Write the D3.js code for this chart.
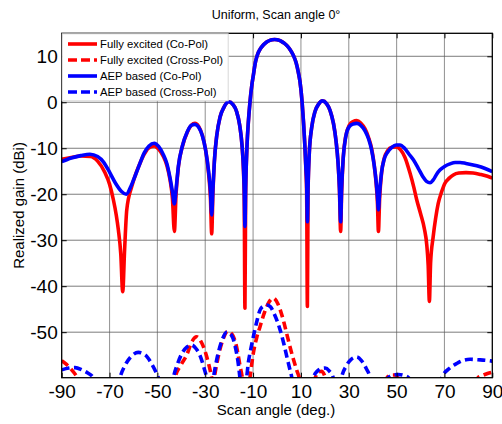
<!DOCTYPE html>
<html>
<head>
<meta charset="utf-8">
<script src="https://cdn.jsdelivr.net/npm/d3@7"></script>
<style>
  body { margin: 0; background: #fff; }
  svg { display: block; }
  text { font-family: "Liberation Sans", Arial, sans-serif; fill: #000; }
</style>
</head>
<body>
<svg id="chart" width="502" height="424"></svg>
<script>
// Axis ticks
const xTicks = [-90, -70, -50, -30, -10, 10, 30, 50, 70, 90];
const yTicks = [-50, -40, -30, -20, -10, 0, 10];

// Fully excited array, co-polar realized gain (dBi) vs scan angle (deg)
const fullCoAngles = [-90,-86,-82,-78,-75,-72,-70,-68.4,-67.2,-66.3,-65.3,-64.5,-63.7,-62.8,-60.7,-59,-57.3,-55.5,-53.8,-51.3,-49.5,-47.5,-46,-44.7,-43.7,-42.9,-42.2,-41.2,-39.5,-37.5,-35.8,-34.3,-32.8,-31.2,-29.8,-28.6,-27.8,-27.3,-26.8,-26.2,-25.2,-23.8,-22.2,-20.2,-18.4,-16.9,-15.6,-14.6,-14.0,-13.7,-13.4,
  -13.1,-12.5,-12,-11.3,-10.5,-10,-9,-8,-7,-6,-5,-4,-3,-2,-1,0,1,2,3,4,5,6,7,8,9,9.6,10.5,11.1,11.6,12.1,12.4,12.7,
  13.0,13.5,14.5,15.9,17.4,19.0,20.7,22.2,23.6,24.7,25.5,26.1,26.6,27.0,27.7,28.7,30.2,31.8,33.3,35.0,36.8,38.3,39.6,40.6,41.5,42.0,42.4,42.9,43.7,44.8,46.3,48.0,49.8,51.6,53.5,55.6,57.2,58.4,60,61.6,62.6,63.2,63.7,64.2,65.3,66.3,67.4,68.8,70.2,72,73.7,76,79,82,85,88,90];
const fullCoGain = [-12.4,-12.0,-11.7,-11.8,-12.8,-15.2,-17.8,-21.2,-24.5,-27.8,-33,-41.2,-32,-23.4,-18.3,-15.5,-13.3,-11.3,-10,-9.5,-10.2,-11.8,-13.8,-16.9,-21,-28.1,-20,-14,-9.5,-6.5,-5,-4.6,-5.2,-7.2,-10.5,-15.5,-21,-28.6,-20,-13,-7.3,-3.2,-1.1,0.1,-0.5,-2.0,-5,-9.5,-15,-21,-44.8,
  -20,-9,-4.5,0,3.8,5.5,8.8,10.6,11.6,12.3,12.8,13.2,13.45,13.6,13.65,13.6,13.45,13.2,12.85,12.4,11.8,11.0,10.0,8.6,6.3,4.5,0,-4.5,-9,-15,-20,-44.4,
  -19,-11,-5.5,-2.0,-0.4,0.3,-0.3,-1.8,-4.6,-8.5,-13,-19,-28.1,-20,-12,-7.5,-5,-4.2,-4.0,-4.5,-5.8,-7.7,-10.2,-13.5,-18,-22,-28.1,-21,-15.5,-12.2,-10.5,-9.8,-9.7,-10.3,-12,-15.4,-18.5,-21.2,-24.2,-27.5,-31,-35.5,-43.3,-35,-29.2,-25.3,-22,-19.5,-17.6,-16.5,-15.8,-15.4,-15.3,-15.4,-15.7,-16.1,-16.5];

// AEP based model, co-polar realized gain (dBi)
const aepCoAngles = [-90,-86,-82,-78.2,-75,-72.5,-70,-67.5,-65,-63,-61,-59,-57.3,-55.5,-53.5,-51.3,-49.5,-47.5,-46,-44.7,-43.7,-42.9,-42.2,-41.2,-39.5,-37.5,-35.8,-34.3,-32.8,-31.2,-29.8,-28.6,-27.8,-27.3,-26.8,-26.2,-25.2,-23.8,-22.2,-20.2,-18.4,-16.9,-15.6,-14.6,-14.0,-13.7,-13.4,
  -13.1,-12.5,-12,-11.3,-10.5,-10,-9,-8,-7,-6,-5,-4,-3,-2,-1,0,1,2,3,4,5,6,7,8,9,9.6,10.5,11.1,11.6,12.1,12.4,12.7,
  13.0,13.5,14.5,15.9,17.4,19.0,20.7,22.2,23.6,24.7,25.5,26.1,26.6,27.0,27.7,28.7,30.2,31.8,33.3,35.0,36.8,38.3,39.6,40.6,41.5,42.0,42.4,42.9,43.7,44.8,46.3,48.0,49.8,51.4,53.3,55.2,57,59,61,62.5,64,65.3,66.8,68.2,70.2,72.3,74.5,76.5,79,83.5,87,90];
const aepCoGain = [-12.9,-12.1,-11.6,-11.3,-11.8,-13,-15.2,-17.6,-19.4,-20.0,-18.2,-15.6,-13.3,-11,-9.5,-8.9,-9.6,-11.4,-13.4,-16.5,-19.5,-22.1,-19,-13.8,-9.4,-6.4,-5.0,-4.8,-5.4,-7.3,-10.5,-15,-19.5,-24.5,-19,-13,-7.3,-3.2,-1.1,0.1,-0.5,-2.0,-5,-9.5,-14.5,-19,-27,
  -18.5,-9,-4.5,0,3.8,5.5,8.8,10.6,11.6,12.3,12.8,13.2,13.45,13.6,13.65,13.6,13.45,13.2,12.85,12.4,11.8,11.0,10.0,8.6,6.3,4.5,0,-4.5,-9,-14.5,-17.5,-26,
  -18,-11,-5.5,-2.0,-0.4,0.3,-0.3,-1.8,-4.6,-8.5,-13,-18.5,-26,-19,-12,-7.6,-5.3,-4.7,-4.6,-5.0,-6.2,-8,-10.5,-13.6,-17.5,-20.5,-23.4,-19.5,-15.2,-12.4,-10.8,-9.8,-9.3,-9.3,-10,-11.3,-12.5,-14.3,-16.2,-17.2,-17.5,-16.9,-15.6,-14.7,-13.9,-13.4,-13.1,-13.1,-13.3,-13.8,-14.4,-15.1];

// Fully excited array, cross-polar gain (null = lobe below the plotted range)
const fullXAngles = [-90,-88,-86,-84,-82.5,-81.5,null,-43.3,-42.6,-40.2,-37.7,-35.7,-33.6,-31.5,-29.4,-28.3,-27.3,-26.8,null,-26.8,-26.2,-24.5,-22.6,-20.6,-18.6,-16.8,-15.4,-14.5,-14.0,null,-12,-11.3,-9.9,-8.5,-7.1,-5.3,-3.6,-1.5,0.5,2.6,4.0,5.4,6.8,8.2,9.4,10,null,15.3,16.2,17.4,18.6,19.8,20.8,null,45,46,47.5,49,50.5,51.5,null,82.5,84,86,88,90];
const fullXGain = [-56.2,-57,-58.1,-59.4,-60.6,-62,null,-62,-59.9,-57.2,-54.9,-52.2,-51.0,-52.3,-55.3,-57.5,-59.9,-61.5,null,-62,-59.9,-55.2,-51.6,-49.8,-50.6,-53.4,-57.5,-59.9,-62,null,-63,-59.9,-54.6,-51.2,-48.8,-45.8,-43.7,-42.6,-44.0,-47.3,-50.2,-53.1,-55.8,-58.2,-60.2,-62,null,-61,-59.6,-58.6,-58.5,-59.3,-61,null,-61,-59.9,-59.3,-59.3,-59.9,-61,null,-61,-59.9,-59.4,-59.0,-58.7];

// AEP based model, cross-polar gain
const aepXAngles = [-90,-87,-84.4,-81.5,-79,-76.8,-76,null,-66.5,-65.6,-63.5,-61,-58,-55,-52.5,-50.5,-49.6,-49,null,-44,-43.3,-41.5,-39.5,-37.6,-35.7,-33.8,-32,-30.5,-29.4,-28.8,null,-27.3,-26.6,-25,-23,-21,-19,-17.3,-16.2,-15.5,-15,null,-13.5,-12.7,-12,-11,-9.9,-8.5,-7.1,-5.6,-4.3,-2.9,-1,1.3,2.8,4.1,5.2,6.2,6.8,null,14.5,15.2,16.8,18.5,20.1,21.8,23.5,24,null,26.3,27,29,31,33.3,35.3,37.3,38.9,39.5,null,45.8,46.5,48.5,50.7,53,55,55.8,null,68.2,68.9,72,75.5,78,80.7,84,87,90];
const aepXGain = [-58.2,-57.8,-57.7,-58.2,-58.9,-59.9,-61,null,-62,-59.9,-57.2,-55.3,-54.4,-55.0,-56.8,-58.8,-59.9,-61,null,-62,-59.9,-56.8,-54.4,-53.2,-52.8,-53.6,-55.3,-57.8,-59.9,-61.5,null,-62,-59.9,-55.5,-51.8,-50.0,-50.7,-53.5,-56.8,-59.9,-62,null,-62,-59.9,-56.7,-53.8,-51,-47.8,-45.2,-44.3,-44.1,-44.4,-46.2,-49.5,-52.4,-55.3,-57.7,-59.9,-62,null,-62,-59.9,-58.5,-57.9,-57.8,-58.4,-59.9,-61,null,-62,-59.9,-57.3,-55.9,-55.4,-56.2,-57.9,-59.9,-61.5,null,-61,-59.9,-59.3,-59.2,-59.4,-59.9,-61,null,-61.5,-59.9,-57.9,-56.7,-56.1,-55.9,-56.0,-56.1,-56.3];

const seriesNames = ["Fully excited (Co-Pol)", "Fully excited (Cross-Pol)", "AEP based (Co-Pol)", "AEP based (Cross-Pol)"];
const seriesColors = ["#ff0000", "#ff0000", "#0000ff", "#0000ff"];
const seriesDashed = [false, true, false, true];

const series = [
  { angles: fullCoAngles, gain: fullCoGain },
  { angles: fullXAngles, gain: fullXGain },
  { angles: aepCoAngles, gain: aepCoGain },
  { angles: aepXAngles, gain: aepXGain }
].map((s, i) => ({
  name: seriesNames[i], color: seriesColors[i], dashed: seriesDashed[i],
  points: s.angles.map((a, k) => (a === null || s.gain[k] === null) ? null : { a, g: s.gain[k] })
}));

const svg = d3.select("#chart");
const X0 = 61.7, X1 = 492.3, Y0 = 33.3, Y1 = 377.7;
const x = d3.scaleLinear().domain([-90, 90]).range([X0, X1]);
const y = d3.scaleLinear().domain([-59.9, 15]).range([Y1, Y0]);

svg.append("defs").append("clipPath").attr("id", "plot-clip")
  .append("rect").attr("x", X0).attr("y", Y0).attr("width", X1 - X0).attr("height", Y1 - Y0);

// grid
const grid = svg.append("g");
grid.selectAll("line.gx").data(xTicks.slice(1, -1)).join("line")
  .attr("x1", d => x(d)).attr("x2", d => x(d)).attr("y1", Y0).attr("y2", Y1)
  .attr("stroke", "#9a9a9a").attr("stroke-width", 1.1);
grid.selectAll("line.gy").data(yTicks).join("line")
  .attr("x1", X0).attr("x2", X1).attr("y1", d => y(d)).attr("y2", d => y(d))
  .attr("stroke", "#5a5a5a").attr("stroke-width", 0.8);

// curves
const line = d3.line()
  .defined(d => d !== null)
  .x(d => x(d.a)).y(d => y(d.g))
  .curve(d3.curveMonotoneX);

const plot = svg.append("g").attr("clip-path", "url(#plot-clip)");
series.forEach(s => {
  plot.append("path").datum(s.points)
    .attr("fill", "none").attr("stroke", s.color)
    .attr("stroke-width", 3.6)
    .attr("stroke-linejoin", "round")
    .attr("stroke-dasharray", s.dashed ? "8,4.5" : null)
    .attr("d", line);
});

// axes with inward ticks; labels use a plain hyphen for negatives
const fontTick = 19;
const fmt = d => String(d);
const axB = svg.append("g").attr("transform", `translate(0,${Y1})`)
  .call(d3.axisBottom(x).tickValues(xTicks).tickFormat(fmt).tickSizeInner(-5).tickSizeOuter(0).tickPadding(7));
const axT = svg.append("g").attr("transform", `translate(0,${Y0})`)
  .call(d3.axisTop(x).tickValues(xTicks).tickSizeInner(-5).tickSizeOuter(0).tickFormat(""));
const axL = svg.append("g").attr("transform", `translate(${X0},0)`)
  .call(d3.axisLeft(y).tickValues(yTicks).tickFormat(fmt).tickSizeInner(-5).tickSizeOuter(0).tickPadding(4));
const axR = svg.append("g").attr("transform", `translate(${X1},0)`)
  .call(d3.axisRight(y).tickValues(yTicks).tickSizeInner(-5).tickSizeOuter(0).tickFormat(""));
[axB, axT, axL, axR].forEach(g => {
  g.select(".domain").remove();
  g.selectAll(".tick line").attr("stroke", "#000").attr("stroke-width", 1);
  g.selectAll("text").attr("font-size", fontTick).attr("font-family", "Liberation Sans, Arial, sans-serif").attr("fill", "#000");
});

// plot frame
svg.append("rect").attr("x", X0).attr("y", Y0).attr("width", X1 - X0).attr("height", Y1 - Y0)
  .attr("fill", "none").attr("stroke", "#000").attr("stroke-width", 1.3);

// legend
const lg = svg.append("g");
lg.append("rect").attr("x", X0 + 0.5).attr("y", Y0 + 0.5).attr("width", 166).attr("height", 67)
  .attr("fill", "#fff").attr("stroke", "#d8d8d8").attr("stroke-width", 1);
series.forEach((s, i) => {
  const ly = 44 + i * 16;
  lg.append("line").attr("x1", 68).attr("x2", 97).attr("y1", ly).attr("y2", ly)
    .attr("stroke", s.color).attr("stroke-width", 3.6)
    .attr("stroke-dasharray", s.dashed ? "9,4" : null);
  lg.append("text").attr("x", 100).attr("y", ly + 4).attr("font-size", 11.3).text(s.name);
});

// titles
svg.append("text").attr("x", 276).attr("y", 19).attr("text-anchor", "middle")
  .attr("font-size", 12.5).text("Uniform, Scan angle 0°");
svg.append("text").attr("x", 276).attr("y", 415).attr("text-anchor", "middle")
  .attr("font-size", 15).text("Scan angle (deg.)");
svg.append("text").attr("transform", `translate(24,${(Y0 + Y1) / 2}) rotate(-90)`)
  .attr("text-anchor", "middle").attr("font-size", 15).text("Realized gain (dBi)");
</script>
</body>
</html>
